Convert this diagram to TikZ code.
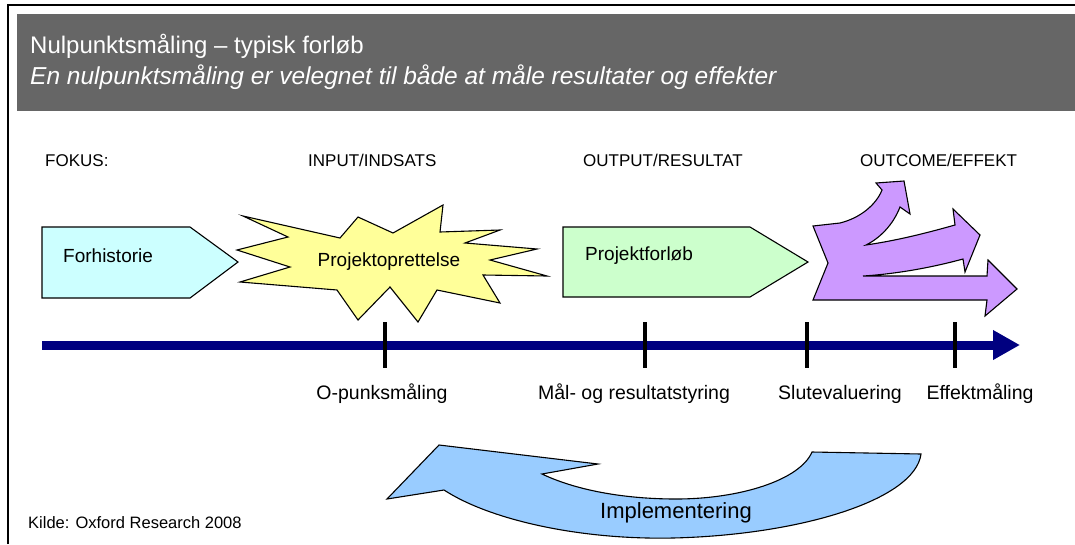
\documentclass[tikz,border=0pt]{standalone}
\usepackage{fontspec}
\setmainfont{Liberation Sans}
\usetikzlibrary{arrows.meta}
\definecolor{hdrgray}{HTML}{666666}
\definecolor{cyanfill}{HTML}{CCFFFF}
\definecolor{greenfill}{HTML}{CCFFCC}
\definecolor{starfill}{HTML}{FFFF99}
\definecolor{purplefill}{HTML}{CC99FF}
\definecolor{bluefill}{HTML}{99CCFF}
\definecolor{navyline}{HTML}{000080}
\begin{document}
\begin{tikzpicture}[x=1pt,y=-1pt,
  shapeline/.style={draw=black,line width=1.1pt,line join=miter},
  heading/.style={anchor=base west,inner sep=0pt,font=\fontsize{17}{20}\selectfont},
  boxtext/.style={anchor=west,inner sep=0pt,font=\fontsize{19}{22}\selectfont},
  milestone/.style={anchor=base,inner sep=0pt,font=\fontsize{19.5}{22}\selectfont},
  tickmark/.style={line width=4pt,black}
]
\useasboundingbox (0,0) rectangle (1075,544);
% frame
\draw[line width=2.5pt] (8,544) -- (8,5) -- (1075,5);
% header
\fill[hdrgray] (17,14) rectangle (1075,111);
\node[anchor=west,inner sep=0pt,text=white,font=\fontsize{24}{28}\selectfont] (title) at (30,46) {Nulpunktsmåling – typisk forløb};
\node[anchor=west,inner sep=0pt,text=white,font=\fontsize{24.5}{28}\selectfont\itshape] (subtitle) at (30,77) {En nulpunktsmåling er velegnet til både at måle resultater og effekter};
% headings
\node[heading] (h1) at (45,166) {FOKUS:};
\node[heading] (h2) at (308,166) {INPUT/INDSATS};
\node[heading] (h3) at (583,166) {OUTPUT/RESULTAT};
\node[heading] (h4) at (860,166) {OUTCOME/EFFEKT};
% Forhistorie
\path[shapeline,fill=cyanfill] (42,227) -- (190,227) -- (238,262) -- (190,298) -- (42,298) -- cycle;
\node[boxtext] (forh) at (63,256) {Forhistorie};
% star
\path[shapeline,fill=starfill] (243,216) -- (340,238) -- (358,217) -- (393,233) -- (443,205) -- (440,232)
  -- (500,230) -- (465,243) -- (537,249) -- (490,260) -- (547,276) -- (483,275) -- (500,303)
  -- (437,290) -- (418,322) -- (390,287) -- (358,320) -- (337,290) -- (240,282) -- (290,267)
  -- (237,250) -- (288,237) -- cycle;
\node[boxtext,anchor=center] (proj) at (389,262) {Projektoprettelse};
% Projektforløb
\path[shapeline,fill=greenfill] (563,227) -- (750,227) -- (808,262) -- (750,297) -- (563,297) -- cycle;
\node[boxtext] (forl) at (585,256) {Projektforløb};
% purple arrows
\path[shapeline,fill=purplefill] (813,226) -- (840,223) .. controls (860,218) and (876,205) .. (882,190)
  -- (876,183) -- (904,181) -- (910,214) -- (900,207)
  .. controls (893,225) and (880,238) .. (866,245)
  .. controls (900,240) and (930,232) .. (955,225) -- (953,209) -- (980,235) -- (965,272) -- (963,259)
  .. controls (930,268) and (895,274) .. (863,276)
  -- (987,276) -- (988,260) -- (1017,289) -- (985,316) -- (987,300) -- (813,300)
  -- (828,263) -- cycle;
% timeline
\coordinate (tls) at (42,345);
\coordinate (tle) at (1020,345);
\draw[navyline,line width=9pt,-{Triangle[length=27pt,width=28pt]}] (tls) -- (tle);
\foreach \x/\n in {385/a,645/b,807/c,955/d}{
  \coordinate (t\n top) at (\x,322);
  \coordinate (t\n bot) at (\x,368);
  \draw[tickmark] (t\n top) -- (t\n bot);
}
\node[milestone] (m1) at (382,399) {O-punksmåling};
\node[milestone] (m2) at (634,399) {Mål- og resultatstyring};
\node[milestone] (m3) at (840,399) {Slutevaluering};
\node[milestone] (m4) at (980,399) {Effektmåling};
% Implementering arrow
\path[shapeline,fill=bluefill] (387,499) -- (439,445) -- (598,464) -- (542,474)
  .. controls (580,492) and (630,499) .. (676,499)
  .. controls (740,499) and (800,480) .. (812,452)
  -- (921,454)
  .. controls (915,500) and (800,535) .. (673,538)
  .. controls (580,540) and (490,520) .. (444,490) -- cycle;
\node[anchor=center,inner sep=0pt,font=\fontsize{22}{26}\selectfont] (impl) at (676,513) {Implementering};
% source
\node[anchor=west,inner sep=0pt,font=\fontsize{16.5}{20}\selectfont] (kilde) at (28,523) {Kilde: Oxford Research 2008};
\end{tikzpicture}
\end{document}
